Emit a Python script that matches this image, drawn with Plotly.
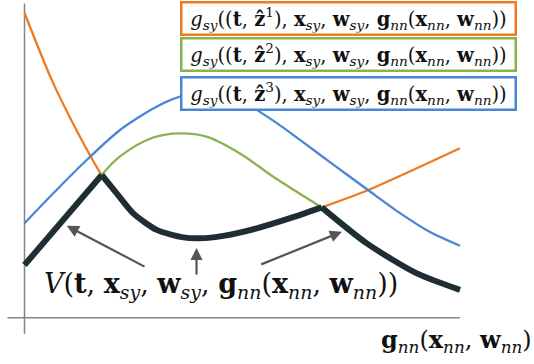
import plotly.graph_objects as go

# ---- data (schematic units) ----
orange_x = [0.0, 0.625, 1.228, 1.773, 2.117, 2.498, 3.036, 3.646, 4.03, 4.565, 5.33, 6.1, 6.824, 7.895, 10.0]
orange_y = [10.2, 7.97, 6.2, 4.8, 4.19, 3.52, 2.97, 2.72, 2.69, 2.77, 3.02, 3.36, 3.72, 4.30, 5.69]

green_x = [1.773, 2.193, 2.958, 3.57, 4.18, 4.948, 5.713, 6.824]
green_y = [4.8, 5.42, 6.05, 6.19, 6.08, 5.52, 4.74, 3.72]

blue_x = [0.0, 0.661, 1.428, 2.193, 2.958, 3.570, 4.144, 4.604, 5.177, 5.752, 6.326, 7.106, 7.887, 8.622, 9.311, 10.0]
blue_y = [3.19, 4.19, 5.30, 6.30, 7.02, 7.41, 7.53, 7.43, 7.10, 6.57, 5.97, 5.13, 4.30, 3.53, 2.90, 2.44]

v_left_x = [0.0, 1.773]
v_left_y = [1.8, 4.8]
v_mid_x = [1.773, 2.117, 2.498, 3.036, 3.646, 4.03, 4.565, 5.33, 6.1, 6.824]
v_mid_y = [4.8, 4.19, 3.52, 2.97, 2.72, 2.69, 2.77, 3.02, 3.36, 3.72]
v_right_x = [6.824, 7.86, 9.01, 10.0]
v_right_y = [3.72, 2.52, 1.52, 0.97]

# arrows: (tail_x, tail_y, head_x, head_y)
arrows = [
    (2.79, 1.72, 0.97, 3.11),
    (3.95, 1.43, 3.95, 2.37),
    (5.40, 1.80, 7.29, 2.91),
]

legend_labels = ["1", "2", "3"]
legend_y = [10.03, 8.8, 7.53]

ORANGE = "#EE7A22"
GREEN = "#8AB24E"
BLUE = "#4A86D6"
DARK = "#1F2E33"
GRAY = "#555555"
AXIS = "#858585"
FONT = "DejaVu Serif"
SM = 0.7


def gsy(k):
    return ("<i>g</i><sub><i>sy</i></sub>((<b>t</b>, <b>\u1e91</b><sup>%s</sup>), "
            "<b>x</b><sub><i>sy</i></sub>, <b>w</b><sub><i>sy</i></sub>, "
            "<b>g</b><sub><i>nn</i></sub>(<b>x</b><sub><i>nn</i></sub>, "
            "<b>w</b><sub><i>nn</i></sub>))" % k)


fig = go.Figure()
for xs, ys, c, sm in [(orange_x, orange_y, ORANGE, SM), (blue_x, blue_y, BLUE, SM), (green_x, green_y, GREEN, 1.0)]:
    fig.add_trace(go.Scatter(x=xs, y=ys, mode="lines", line=dict(color=c, width=2.3, shape="spline", smoothing=sm),
                             hoverinfo="skip", showlegend=False))

fig.add_trace(go.Scatter(x=v_left_x, y=v_left_y, mode="lines", line=dict(color=DARK, width=6),
                         hoverinfo="skip", showlegend=False))
fig.add_trace(go.Scatter(x=v_mid_x, y=v_mid_y, mode="lines", line=dict(color=DARK, width=6, shape="spline", smoothing=SM),
                         hoverinfo="skip", showlegend=False))
fig.add_trace(go.Scatter(x=v_right_x, y=v_right_y, mode="lines", line=dict(color=DARK, width=6, shape="spline", smoothing=SM),
                         hoverinfo="skip", showlegend=False))

# axes lines
fig.add_shape(type="line", x0=0, x1=0, y0=-0.5, y1=10.52, line=dict(color=AXIS, width=1.5), layer="below")
fig.add_shape(type="line", x0=-0.39, x1=10.0, y0=0.04, y1=0.04, line=dict(color=AXIS, width=1.5), layer="below")

for tx, ty, hx, hy in arrows:
    fig.add_annotation(x=hx, y=hy, ax=tx, ay=ty, xref="x", yref="y", axref="x", ayref="y",
                       text="", showarrow=True, arrowhead=2, arrowsize=1.1, arrowwidth=2.2, arrowcolor=GRAY)

for lab, ly, c in zip(legend_labels, legend_y, [ORANGE, GREEN, BLUE]):
    fig.add_annotation(x=7.43, y=ly, xref="x", yref="y", text=gsy(lab), showarrow=False,
                       font=dict(family=FONT, size=19.5, color="#111"),
                       bgcolor="white", bordercolor=c, borderwidth=2.5, borderpad=1,
                       width=330, height=28, align="center", valign="middle")

fig.add_annotation(x=4.52, y=1.12, xref="x", yref="y",
                   text="<i>V</i>(<b>t</b>, <b>x</b><sub><i>sy</i></sub>, <b>w</b><sub><i>sy</i></sub>, "
                        "<b>g</b><sub><i>nn</i></sub>(<b>x</b><sub><i>nn</i></sub>, <b>w</b><sub><i>nn</i></sub>))",
                   showarrow=False, font=dict(family=FONT, size=27, color="#111"))

fig.add_annotation(x=11.69, y=-0.73, xref="x", yref="y", xanchor="right",
                   text="<b>g</b><sub><i>nn</i></sub>(<b>x</b><sub><i>nn</i></sub>, <b>w</b><sub><i>nn</i></sub>)",
                   showarrow=False, font=dict(family=FONT, size=24, color="#111"))

fig.update_layout(width=534, height=364, autosize=False, margin=dict(l=0, r=0, t=0, b=0),
                  paper_bgcolor="white", plot_bgcolor="white",
                  xaxis=dict(range=[-0.5626, 11.699], visible=False, fixedrange=True),
                  yaxis=dict(range=[-1.5, 10.633], visible=False, fixedrange=True),
                  showlegend=False)

fig.write_html("out.html", config={"displayModeBar": False},
               post_script="document.body.style.margin='0';document.body.style.overflow='hidden';")
